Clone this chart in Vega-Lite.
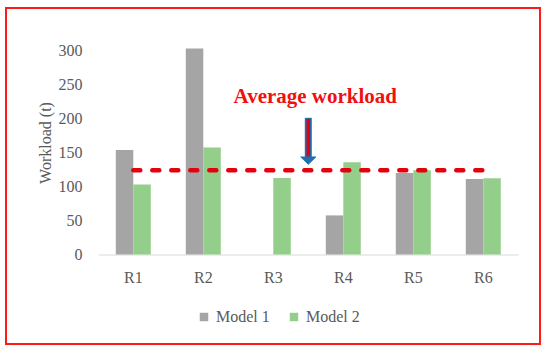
{
  "$schema": "https://vega.github.io/schema/vega-lite/v6.json",
  "width": 534,
  "height": 336,
  "autosize": {"type": "none"},
  "padding": {"left": 6, "top": 8, "right": 10, "bottom": 10},
  "background": "white",
  "config": {
    "font": "Liberation Serif",
    "view": {"stroke": "#ff1a1a", "strokeWidth": 2},
    "axis": {
      "grid": false,
      "ticks": false,
      "tickSize": 0,
      "labelFont": "Liberation Serif",
      "labelFontSize": 16,
      "labelColor": "#595959",
      "titleFont": "Liberation Serif",
      "titleFontSize": 16,
      "titleFontWeight": "normal",
      "titleColor": "#595959"
    }
  },
  "resolve": {"axis": {"x": "independent", "y": "independent"}},
  "datasets": {
    "bars": [
      {"region": "R1", "model": "Model 1", "workload": 153.5},
      {"region": "R1", "model": "Model 2", "workload": 103},
      {"region": "R2", "model": "Model 1", "workload": 303},
      {"region": "R2", "model": "Model 2", "workload": 157.5},
      {"region": "R3", "model": "Model 1", "workload": 0},
      {"region": "R3", "model": "Model 2", "workload": 112.5},
      {"region": "R4", "model": "Model 1", "workload": 57.5},
      {"region": "R4", "model": "Model 2", "workload": 135.5},
      {"region": "R5", "model": "Model 1", "workload": 120},
      {"region": "R5", "model": "Model 2", "workload": 124},
      {"region": "R6", "model": "Model 1", "workload": 111},
      {"region": "R6", "model": "Model 2", "workload": 112}
    ],
    "avg": [{"start": "R1", "end": "R6", "value": 124}],
    "arrow": [{"pos": "R3", "top": 201, "innerTop": 199.5, "bottom": 142, "tip": 138}],
    "label": [{"pos": "R3", "y": 222.4, "text": "Average workload"}]
  },
  "layer": [
    {
      "data": {"name": "bars"},
      "mark": {"type": "bar"},
      "encoding": {
        "x": {
          "field": "region",
          "type": "nominal",
          "scale": {"domain": ["R1", "R2", "R3", "R4", "R5", "R6"], "range": [92.3, 512.3], "paddingInner": 0, "paddingOuter": 0},
          "axis": {"title": null, "labelAngle": 0, "domain": true, "domainColor": "#d9d9d9", "domainWidth": 1, "labelPadding": 15, "offset": -89.5}
        },
        "xOffset": {"field": "model", "type": "nominal", "scale": {"paddingInner": 0, "paddingOuter": 1.1}},
        "y": {
          "field": "workload",
          "type": "quantitative",
          "scale": {"domain": [0, 300], "range": [246.5, 42.5], "nice": false},
          "axis": {"title": "Workload (t)", "values": [0, 50, 100, 150, 200, 250, 300], "domain": false, "labelPadding": 0, "offset": -76, "titleX": -37, "titleY": 134.5, "titleAlign": "center", "titleBaseline": "middle"}
        },
        "color": {
          "field": "model",
          "type": "nominal",
          "scale": {"domain": ["Model 1", "Model 2"], "range": ["#a5a5a5", "#93cf8a"]},
          "legend": {"title": null, "orient": "none", "legendX": 190, "legendY": 301, "direction": "horizontal", "symbolType": "square", "symbolSize": 72, "symbolStrokeWidth": 0, "labelFont": "Liberation Serif", "labelFontSize": 16, "labelColor": "#595959", "labelOffset": 4, "columnPadding": 16, "padding": 0}
        }
      }
    },
    {
      "data": {"name": "avg"},
      "mark": {"type": "rule", "color": "#e3000f", "strokeWidth": 4.5, "strokeDash": [7, 12], "strokeCap": "round"},
      "encoding": {
        "x": {"field": "start", "type": "nominal", "axis": null},
        "x2": {"field": "end"},
        "y": {"field": "value", "type": "quantitative", "axis": null}
      }
    },
    {
      "data": {"name": "arrow"},
      "mark": {"type": "rule", "color": "#1f6fb2", "strokeWidth": 7},
      "encoding": {
        "x": {"field": "pos", "type": "nominal", "bandPosition": 1, "axis": null},
        "y": {"field": "top", "type": "quantitative", "axis": null},
        "y2": {"field": "bottom"}
      }
    },
    {
      "data": {"name": "arrow"},
      "mark": {"type": "rule", "color": "#e3000f", "strokeWidth": 3.5},
      "encoding": {
        "x": {"field": "pos", "type": "nominal", "bandPosition": 1, "axis": null},
        "y": {"field": "innerTop", "type": "quantitative", "axis": null},
        "y2": {"field": "bottom"}
      }
    },
    {
      "data": {"name": "arrow"},
      "mark": {"type": "point", "shape": "M-1,-0.49L1,-0.49L0,0.49Z", "size": 225, "filled": true, "fill": "#1f6fb2", "stroke": "#1f6fb2", "strokeWidth": 1, "opacity": 1},
      "encoding": {
        "x": {"field": "pos", "type": "nominal", "bandPosition": 1, "axis": null},
        "y": {"field": "tip", "type": "quantitative", "axis": null}
      }
    },
    {
      "data": {"name": "label"},
      "mark": {"type": "text", "font": "Liberation Serif", "fontWeight": "bold", "fontSize": 21, "color": "#f01010", "align": "center", "baseline": "alphabetic", "dx": 7},
      "encoding": {
        "x": {"field": "pos", "type": "nominal", "bandPosition": 1, "axis": null},
        "y": {"field": "y", "type": "quantitative", "axis": null},
        "text": {"field": "text"}
      }
    }
  ]
}
